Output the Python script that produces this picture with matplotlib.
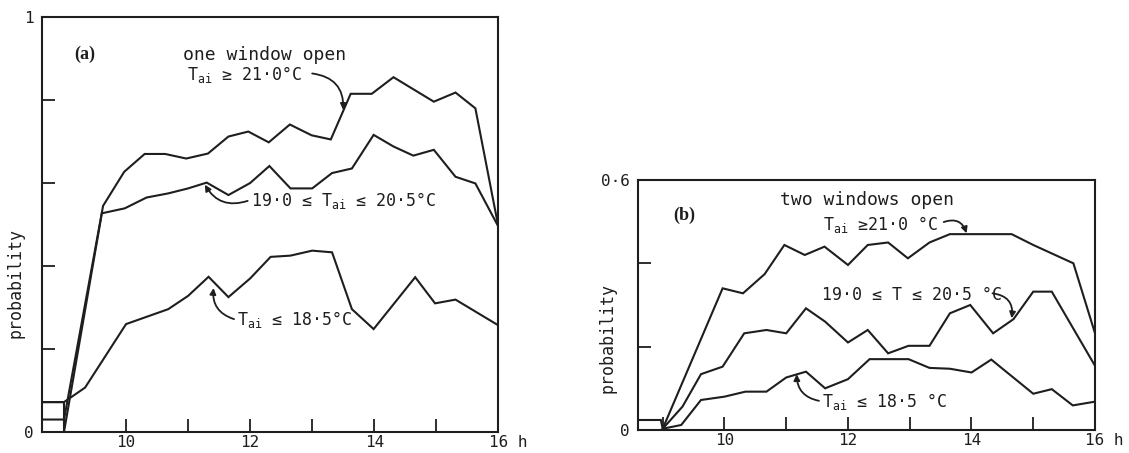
import matplotlib
matplotlib.use("Agg")
import matplotlib.pyplot as plt
import matplotlib.transforms as mtransforms

plt.rcParams['font.family'] = ['DejaVu Sans Mono', 'DejaVu Sans']
plt.rcParams['mathtext.fontset'] = 'dejavusans'

INK = '#1e1e1e'

# ---------------- data: panel (a) one window open ----------------
a_hi_x = [8.64, 9.0, 9.63, 9.97, 10.3, 10.63, 10.97, 11.32, 11.65, 11.97, 12.3, 12.64,
          12.99, 13.3, 13.62, 13.96, 14.31, 14.96, 15.31, 15.63, 16.0]
a_hi_y = [0.03, 0.03, 0.545, 0.627, 0.670, 0.670, 0.659, 0.671, 0.712, 0.724, 0.698, 0.741,
          0.715, 0.705, 0.815, 0.815, 0.855, 0.796, 0.818, 0.780, 0.495]

a_mid_x = [8.64, 9.0, 9.0, 9.61, 9.98, 10.33, 10.68, 11.0, 11.3, 11.65, 12.0, 12.31, 12.65,
           13.0, 13.32, 13.64, 13.99, 14.31, 14.63, 14.96, 15.31, 15.63, 16.0]
a_mid_y = [0.072, 0.072, 0.0, 0.527, 0.539, 0.565, 0.575, 0.587, 0.601, 0.571, 0.600, 0.641,
           0.587, 0.587, 0.624, 0.635, 0.716, 0.688, 0.666, 0.680, 0.615, 0.599, 0.495]

a_lo_x = [8.64, 9.0, 9.34, 10.0, 10.68, 11.0, 11.33, 11.65, 12.0, 12.33, 12.65, 13.0, 13.32,
          13.64, 13.99, 14.66, 14.98, 15.31, 16.0]
a_lo_y = [0.072, 0.072, 0.107, 0.26, 0.296, 0.328, 0.374, 0.325, 0.37, 0.422, 0.425, 0.437,
          0.433, 0.296, 0.248, 0.373, 0.31, 0.319, 0.257]

# ---------------- data: panel (b) two windows open ----------------
b_hi_x = [9.0, 9.97, 10.30, 10.65, 10.97, 11.30, 11.62, 12.0, 12.32, 12.65, 12.97, 13.32,
          13.65, 13.97, 14.65, 15.0, 15.65, 16.0]
b_hi_y = [0.003, 0.34, 0.328, 0.374, 0.444, 0.42, 0.44, 0.396, 0.444, 0.45, 0.412, 0.45,
          0.47, 0.47, 0.47, 0.444, 0.40, 0.232]

b_mid_x = [9.0, 9.32, 9.62, 9.97, 10.32, 10.68, 11.0, 11.32, 11.63, 12.0, 12.32, 12.65,
           12.98, 13.32, 13.65, 13.98, 14.35, 14.68, 15.0, 15.3, 16.0]
b_mid_y = [0.003, 0.056, 0.134, 0.152, 0.232, 0.24, 0.232, 0.292, 0.26, 0.21, 0.24, 0.184,
           0.202, 0.202, 0.28, 0.30, 0.232, 0.266, 0.332, 0.332, 0.154]

b_lo_x = [8.6, 8.97, 9.0, 9.3, 9.62, 10.0, 10.34, 10.68, 11.0, 11.32, 11.63, 12.0, 12.35,
          12.98, 13.32, 13.65, 14.0, 14.32, 15.0, 15.3, 15.64, 16.0]
b_lo_y = [0.024, 0.024, 0.003, 0.012, 0.072, 0.08, 0.092, 0.092, 0.126, 0.14, 0.10, 0.122,
          0.17, 0.17, 0.149, 0.147, 0.138, 0.169, 0.087, 0.098, 0.059, 0.068]

x_label_ticks = [10, 12, 14, 16]
x_label_text = ['10', '12', '14', '16 h']

LW = 1.5
TXT = 12
TICKFS = 11.5


def style_axes(ax, xlim, ylim, minor_x, yticks, ylabels):
    ax.set_xlim(*xlim)
    ax.set_ylim(*ylim)
    for s in ax.spines.values():
        s.set_linewidth(1.5)
        s.set_color(INK)
    ax.set_xticks(x_label_ticks)
    ax.set_xticklabels(x_label_text)
    ax.set_xticks(minor_x, minor=True)
    ax.set_yticks(yticks)
    ax.set_yticklabels(ylabels)
    ax.tick_params(axis='both', which='both', direction='in', length=9.5, width=1.3,
                   color=INK, labelsize=TICKFS, labelcolor=INK)
    ax.tick_params(axis='x', which='both', pad=2.5)
    ax.tick_params(axis='y', which='both', pad=6)
    # shift "16 h" label so the number sits at 16
    lab = ax.get_xticklabels()[-1]
    lab.set_horizontalalignment('left')
    lab.set_transform(lab.get_transform() + mtransforms.ScaledTranslation(-7 / 72, 0, fig.dpi_scale_trans))


def curved_arrow(ax, start, end, rad):
    ax.annotate('', xy=end, xytext=start,
                arrowprops=dict(arrowstyle='-|>', color=INK, lw=1.3,
                                connectionstyle=f'arc3,rad={rad}',
                                mutation_scale=9, shrinkA=0, shrinkB=0))


fig = plt.figure(figsize=(11.29, 4.53), dpi=100)

# ---------------- panel (a) ----------------
axa = fig.add_axes([0.0369, 0.0464, 0.4045, 0.916])
for xs, ys in [(a_hi_x, a_hi_y), (a_mid_x, a_mid_y), (a_lo_x, a_lo_y)]:
    axa.plot(xs, ys, color=INK, lw=LW, solid_joinstyle='miter')
style_axes(axa, (8.64, 16.0), (0, 1.0), [11, 13, 15],
           [0, 0.2, 0.4, 0.6, 0.8, 1.0], ['0', '', '', '', '', '1'])
axa.set_ylabel('probability', fontsize=TXT, color=INK)
axa.yaxis.set_label_coords(-0.037, 0.36)

axa.text(9.34, 0.909, '(a)', family='Liberation Serif', fontweight='bold', fontsize=13,
         ha='center', va='center', color=INK)
axa.text(12.24, 0.909, 'one window open', fontsize=13, ha='center', va='center', color=INK)
axa.text(11.92, 0.862, r'$\mathregular{T_{ai}}$ ≥ 21·0°C', fontsize=TXT, ha='center',
         va='center', color=INK)
curved_arrow(axa, (13.0, 0.864), (13.5, 0.776), -0.45)
axa.text(12.02, 0.559, r'19·0 ≤ $\mathregular{T_{ai}}$ ≤ 20·5°C', fontsize=TXT, ha='left',
         va='center', color=INK)
curved_arrow(axa, (11.96, 0.557), (11.27, 0.596), -0.4)
axa.text(11.79, 0.27, r'$\mathregular{T_{ai}}$ ≤ 18·5°C', fontsize=TXT, ha='left',
         va='center', color=INK)
curved_arrow(axa, (11.74, 0.272), (11.41, 0.347), -0.4)

# ---------------- panel (b) ----------------
axb = fig.add_axes([0.5651, 0.0508, 0.4048, 0.5519])
for xs, ys in [(b_hi_x, b_hi_y), (b_mid_x, b_mid_y), (b_lo_x, b_lo_y)]:
    axb.plot(xs, ys, color=INK, lw=LW, solid_joinstyle='miter')
style_axes(axb, (8.6, 16.0), (0, 0.6), [9, 11, 13, 15],
           [0, 0.2, 0.4, 0.6], ['0', '', '', '0·6'])
axb.set_ylabel('probability', fontsize=TXT, color=INK)
axb.yaxis.set_label_coords(-0.046, 0.367)

axb.text(9.35, 0.516, '(b)', family='Liberation Serif', fontweight='bold', fontsize=13,
         ha='center', va='center', color=INK)
axb.text(12.31, 0.552, 'two windows open', fontsize=13, ha='center', va='center', color=INK)
axb.text(11.6, 0.492, r'$\mathregular{T_{ai}}$ ≥21·0 °C', fontsize=TXT, ha='left',
         va='center', color=INK)
curved_arrow(axb, (13.55, 0.499), (13.92, 0.472), -0.5)
axb.text(11.58, 0.324, '19·0 ≤ T ≤ 20·5 °C', fontsize=TXT, ha='left', va='center', color=INK)
curved_arrow(axb, (14.34, 0.328), (14.65, 0.268), -0.5)
axb.text(11.58, 0.068, r'$\mathregular{T_{ai}}$ ≤ 18·5 °C', fontsize=TXT, ha='left',
         va='center', color=INK)
curved_arrow(axb, (11.53, 0.07), (11.17, 0.134), -0.4)

fig.savefig('out.png', dpi=100, facecolor='white')
